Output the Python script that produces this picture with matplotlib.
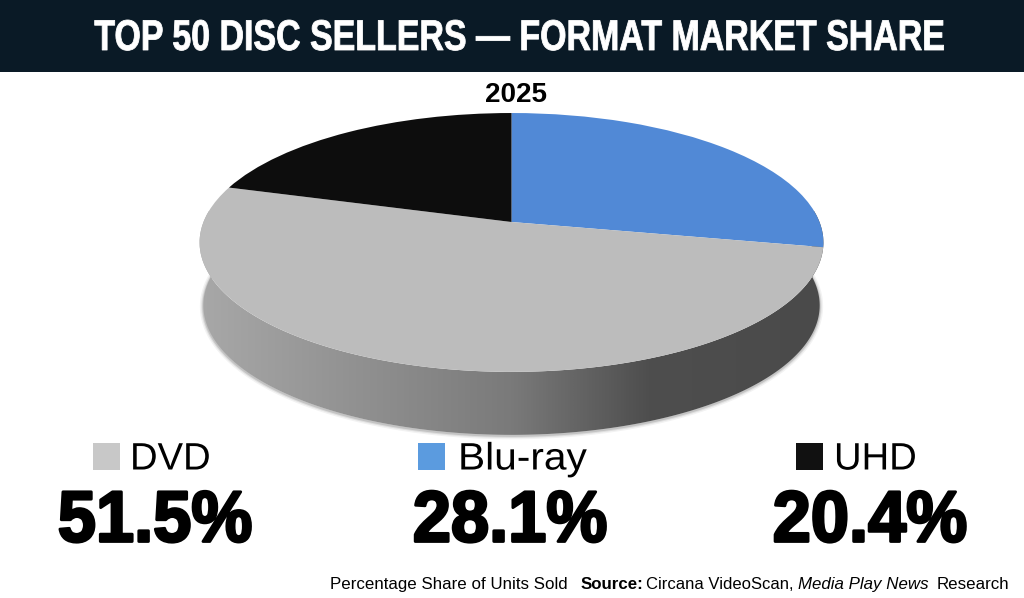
import numpy as np
import matplotlib
matplotlib.use("Agg")
import matplotlib.pyplot as plt
from matplotlib.patches import Rectangle, Polygon
from matplotlib.transforms import Transform, Affine2D
import matplotlib.patheffects as pe
from matplotlib.colors import LinearSegmentedColormap

title = "TOP 50 DISC SELLERS \u2014 FORMAT MARKET SHARE"
year = "2025"
pie_formats = ["Blu-ray", "DVD", "UHD"]
pie_shares = [28.1, 51.5, 20.4]
pie_colors = ["#5189d6", "#bcbcbc", "#0d0d0d"]
legend_labels = ["DVD", "Blu-ray", "UHD"]
legend_values = ["51.5%", "28.1%", "20.4%"]
legend_colors = ["#c8c8c8", "#5b9bdf", "#111111"]
side_stops = [(0.0, "#a8a8a8"), (0.5, "#7a7a7a"), (0.72, "#4e4e4e"), (1.0, "#4a4a4a")]

SANS = ["Liberation Sans"]
W, H = 1024, 598

CX, CY, A, B, K = 511.5, 222.0, 308.0, 126.2, 0.158
DEPTH = 63.0


class Persp(Transform):
    input_dims = output_dims = 2
    is_affine = False
    has_inverse = False

    def __init__(self, dy=0.0, sx=1.0):
        super().__init__()
        self.dy, self.sx = dy, sx

    def transform_non_affine(self, values):
        v = np.asarray(values, float)
        w = 1 + K * v[:, 1]
        return np.column_stack([CX + self.sx * A * v[:, 0] / w,
                                CY + self.dy - B * v[:, 1] / w])


class Squeeze(pe.AbstractPathEffect):
    """Scale a text's outline about a pixel anchor, with an optional stroke."""

    def __init__(self, x, y, sx=1.0, sy=1.0, lw=0.0, color="black"):
        super().__init__()
        self.scale = Affine2D().translate(-x, -(H - y)).scale(sx, sy).translate(x, H - y)
        self.lw, self.color = lw, color

    def draw_path(self, renderer, gc, tpath, affine, rgbFace=None):
        g = renderer.new_gc()
        g.copy_properties(gc)
        g.set_linewidth(self.lw)
        g.set_foreground(self.color if self.lw > 0 else "none")
        renderer.draw_path(g, tpath, affine + self.scale, rgbFace)
        g.restore()


fig = plt.figure(figsize=(W / 100, H / 100), dpi=100, facecolor="white")
ax = fig.add_axes([0, 0, 1, 1])
wedges, _ = ax.pie(pie_shares, colors=pie_colors, startangle=90, counterclock=False,
                   wedgeprops=dict(linewidth=0))
for w in wedges:
    w.set_transform(Persp() + ax.transData)
    w.set_zorder(3)

# side wall
t = np.linspace(np.pi * 0.97, np.pi * 2.03, 300)
circ = np.column_stack([np.cos(t), np.sin(t)])
top_edge = Persp().transform_non_affine(circ)
bot_edge = Persp(DEPTH, 0.988).transform_non_affine(circ)
wall = np.vstack([top_edge, bot_edge[::-1]])
cmap = LinearSegmentedColormap.from_list("side", side_stops)
for lw, al in [(5, 0.05), (3, 0.08), (1.5, 0.12)]:
    ax.plot(bot_edge[:, 0], bot_edge[:, 1] + 1, color="black", lw=lw, alpha=al, zorder=1)
poly = Polygon(wall, closed=True, fc="none", ec="none", transform=ax.transData, zorder=2)
ax.add_patch(poly)
im = ax.imshow(np.linspace(0, 1, 512)[None, :], cmap=cmap, aspect="auto",
               extent=(199, 824, 440, 200), zorder=2, interpolation="bilinear")
im.set_clip_path(poly)

ax.set_xlim(0, W)
ax.set_ylim(H, 0)
ax.set_aspect("auto")
ax.axis("off")

# header
ax.add_patch(Rectangle((0, 0), W, 72, fc="#0a1a26", ec="none", zorder=4))
ax.text(519, 50, title, color="white", fontsize=26, fontweight="bold", family=SANS,
        ha="center", va="baseline", zorder=5,
        path_effects=[Squeeze(519, 50, 0.94, 1.19, 0.6, "white")])
ax.text(516, 102, year, color="black", fontsize=20, fontweight="bold", family=SANS,
        ha="center", va="baseline", zorder=5)

# legend
sq_x = [93, 418, 796]
txt_x = [130, 458, 834]
txt_sx = [1.0, 1.065, 1.0]
val_x = [155, 510, 870]
for i, lab in enumerate(legend_labels):
    ax.add_patch(Rectangle((sq_x[i], 442.5), 27, 27.5, fc=legend_colors[i], ec="none", zorder=5))
    ax.text(txt_x[i], 469.5, lab, color="black", fontsize=27.5, family=SANS, ha="left",
            va="baseline", zorder=5,
            path_effects=[Squeeze(txt_x[i], 469.5, txt_sx[i])])
    ax.text(val_x[i], 541.5, legend_values[i], color="black", fontsize=52, fontweight="bold",
            family=SANS, ha="center", va="baseline", zorder=5,
            path_effects=[Squeeze(val_x[i], 541.5, 0.95, 1.0, 2.0, "black")])

# footer
fy = 589
FS = 12.2
ax.text(330, fy, "Percentage Share of Units Sold", fontsize=FS, family=SANS, va="baseline")
ax.text(581, fy, "Source:", fontsize=FS, fontweight="bold", family=SANS, va="baseline")
ax.text(646, fy, "Circana VideoScan,", fontsize=FS - 0.2, family=SANS, va="baseline")
ax.text(798, fy, "Media Play News", fontsize=FS, style="italic", family=SANS, va="baseline")
ax.text(937, fy, "Research", fontsize=FS, family=SANS, va="baseline")

fig.savefig("out.png", dpi=100, facecolor="white")
